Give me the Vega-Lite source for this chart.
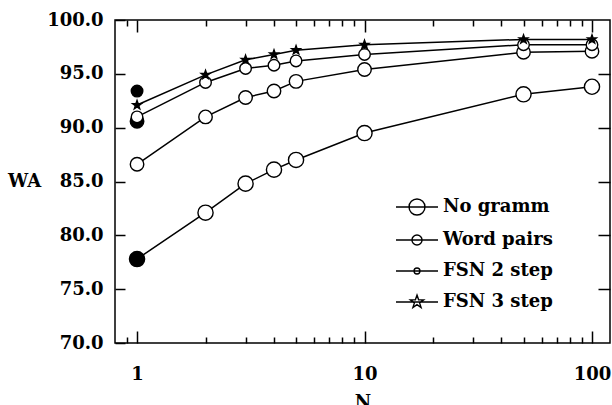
{
  "$schema": "https://vega.github.io/schema/vega-lite/v6.json",
  "width": 495,
  "height": 323,
  "autosize": {"type": "none"},
  "padding": {"left": 115, "top": 20, "right": 2, "bottom": 62},
  "background": "white",
  "config": {
    "view": {"stroke": "black", "strokeWidth": 1.5},
    "font": "DejaVu Serif",
    "axis": {"grid": false, "domain": false, "tickColor": "black", "tickWidth": 1.5, "labelColor": "black", "labelFont": "DejaVu Serif", "labelFontWeight": "bold", "labelFontSize": 18, "titleFont": "DejaVu Serif", "titleFontWeight": "bold", "titleFontSize": 18, "titleColor": "black"}
  },
  "data": {"values": [
    {"series": "No gramm", "N": 1, "WA": 77.8, "filled": true, "extra": false},
    {"series": "No gramm", "N": 2, "WA": 82.1, "filled": false, "extra": false},
    {"series": "No gramm", "N": 3, "WA": 84.8, "filled": false, "extra": false},
    {"series": "No gramm", "N": 4, "WA": 86.1, "filled": false, "extra": false},
    {"series": "No gramm", "N": 5, "WA": 87.0, "filled": false, "extra": false},
    {"series": "No gramm", "N": 10, "WA": 89.5, "filled": false, "extra": false},
    {"series": "No gramm", "N": 50, "WA": 93.1, "filled": false, "extra": false},
    {"series": "No gramm", "N": 100, "WA": 93.8, "filled": false, "extra": false},
    {"series": "Word pairs", "N": 1, "WA": 86.6, "filled": false, "extra": false},
    {"series": "Word pairs", "N": 2, "WA": 91.0, "filled": false, "extra": false},
    {"series": "Word pairs", "N": 3, "WA": 92.8, "filled": false, "extra": false},
    {"series": "Word pairs", "N": 4, "WA": 93.4, "filled": false, "extra": false},
    {"series": "Word pairs", "N": 5, "WA": 94.3, "filled": false, "extra": false},
    {"series": "Word pairs", "N": 10, "WA": 95.4, "filled": false, "extra": false},
    {"series": "Word pairs", "N": 50, "WA": 97.0, "filled": false, "extra": false},
    {"series": "Word pairs", "N": 100, "WA": 97.1, "filled": false, "extra": false},
    {"series": "Word pairs", "N": 1, "WA": 90.6, "filled": true, "extra": true},
    {"series": "FSN 2 step", "N": 1, "WA": 91.0, "filled": false, "extra": false},
    {"series": "FSN 2 step", "N": 2, "WA": 94.2, "filled": false, "extra": false},
    {"series": "FSN 2 step", "N": 3, "WA": 95.5, "filled": false, "extra": false},
    {"series": "FSN 2 step", "N": 4, "WA": 95.8, "filled": false, "extra": false},
    {"series": "FSN 2 step", "N": 5, "WA": 96.2, "filled": false, "extra": false},
    {"series": "FSN 2 step", "N": 10, "WA": 96.8, "filled": false, "extra": false},
    {"series": "FSN 2 step", "N": 50, "WA": 97.7, "filled": false, "extra": false},
    {"series": "FSN 2 step", "N": 100, "WA": 97.7, "filled": false, "extra": false},
    {"series": "FSN 2 step", "N": 1, "WA": 93.4, "filled": true, "extra": true},
    {"series": "FSN 3 step", "N": 1, "WA": 92.1, "filled": true, "extra": false},
    {"series": "FSN 3 step", "N": 2, "WA": 94.9, "filled": true, "extra": false},
    {"series": "FSN 3 step", "N": 3, "WA": 96.3, "filled": true, "extra": false},
    {"series": "FSN 3 step", "N": 4, "WA": 96.8, "filled": true, "extra": false},
    {"series": "FSN 3 step", "N": 5, "WA": 97.2, "filled": true, "extra": false},
    {"series": "FSN 3 step", "N": 10, "WA": 97.7, "filled": true, "extra": false},
    {"series": "FSN 3 step", "N": 50, "WA": 98.2, "filled": true, "extra": false},
    {"series": "FSN 3 step", "N": 100, "WA": 98.2, "filled": true, "extra": false}
  ]},
  "resolve": {"axis": {"x": "independent", "y": "independent"}, "scale": {"shape": "independent", "size": "independent", "color": "independent"}},
  "layer": [
    {
      "transform": [{"filter": "datum.extra == false"}],
      "mark": {"type": "line", "stroke": "black", "strokeWidth": 1.5},
      "encoding": {
        "x": {"field": "N", "type": "quantitative", "scale": {"type": "log", "domain": [0.8, 120], "nice": false},
          "axis": {"orient": "bottom", "title": "N", "titlePadding": 10, "values": [1, 10, 100], "format": "d", "tickSize": -12, "labelPadding": 34}},
        "y": {"field": "WA", "type": "quantitative", "scale": {"domain": [70, 100], "nice": false, "zero": false},
          "axis": {"orient": "left", "title": "WA", "titleAngle": 0, "titleAlign": "right", "titleBaseline": "middle", "titlePadding": 6,
            "values": [70, 75, 80, 85, 90, 95, 100], "format": ".1f", "tickSize": -10, "labelPadding": 22}},
        "detail": {"field": "series", "type": "nominal"}
      }
    },
    {
      "mark": {"type": "point", "stroke": "black", "strokeWidth": 1.4, "opacity": 1},
      "encoding": {
        "x": {"field": "N", "type": "quantitative", "axis": {"orient": "top", "title": null, "labels": false, "values": [1, 10, 100], "tickSize": -12}},
        "y": {"field": "WA", "type": "quantitative", "axis": {"orient": "right", "title": null, "labels": false, "values": [75, 80, 85, 90, 95], "tickSize": -12}},
        "shape": {"field": "series", "type": "nominal", "legend": null,
          "scale": {"domain": ["No gramm", "Word pairs", "FSN 2 step", "FSN 3 step"], "range": ["circle", "circle", "circle", "M 0 -1 L 0.235 -0.324 L 0.951 -0.309 L 0.38 0.124 L 0.588 0.809 L 0 0.4 L -0.588 0.809 L -0.38 0.124 L -0.951 -0.309 L -0.235 -0.324 Z"]}},
        "size": {"field": "series", "type": "nominal", "legend": null,
          "scale": {"domain": ["No gramm", "Word pairs", "FSN 2 step", "FSN 3 step"], "range": [230, 85, 40, 196]}},
        "fill": {"condition": {"test": "datum.filled", "value": "black"}, "value": "white"}
      }
    },
    {
      "transform": [{"filter": "datum.extra == false"}],
      "mark": {"type": "point", "opacity": 0, "stroke": "black", "strokeWidth": 1.4},
      "encoding": {
        "x": {"field": "N", "type": "quantitative", "axis": {"orient": "bottom", "title": null, "labels": false, "values": [0.9, 2, 3, 4, 5, 6, 7, 8, 9, 20, 30, 40, 50, 60, 70, 80, 90], "tickSize": -6}},
        "y": {"field": "WA", "type": "quantitative", "axis": null},
        "color": {"field": "series", "type": "nominal",
          "scale": {"domain": ["No gramm", "Word pairs", "FSN 2 step", "FSN 3 step"], "range": ["black", "black", "black", "black"]},
          "legend": {"title": null, "orient": "none", "legendX": 280, "legendY": 165, "symbolSize": 1764, "symbolStrokeColor": "black", "symbolStrokeWidth": 1.4, "symbolOpacity": 1,
            "labelFont": "DejaVu Serif", "labelFontWeight": "bold", "labelFontSize": 18, "labelColor": "black", "rowPadding": -5,
            "encode": {"labels": {"update": {"align": {"value": "right"}, "x": {"value": -6}}}, "symbols": {"update": {"opacity": {"value": 1}, "stroke": {"value": "black"}}}}}},
        "shape": {"field": "series", "type": "nominal",
          "scale": {"domain": ["No gramm", "Word pairs", "FSN 2 step", "FSN 3 step"],
            "range": [
              "M -1 0 L 1 0 M -0.38 0 A 0.38 0.38 0 1 0 0.38 0 A 0.38 0.38 0 1 0 -0.38 0 Z",
              "M -1 0 L 1 0 M -0.24 0 A 0.24 0.24 0 1 0 0.24 0 A 0.24 0.24 0 1 0 -0.24 0 Z",
              "M -1 0 L 1 0 M -0.14 0 A 0.14 0.14 0 1 0 0.14 0 A 0.14 0.14 0 1 0 -0.14 0 Z",
              "M -1 0 L 1 0 M 0 -0.33 L 0.076 -0.105 L 0.314 -0.102 L 0.124 0.04 L 0.194 0.267 L 0 0.13 L -0.194 0.267 L -0.124 0.04 L -0.314 -0.102 L -0.076 -0.105 Z"
            ]}}
      }
    },
    {
      "transform": [{"filter": "datum.extra == true"}],
      "mark": {"type": "point", "opacity": 0},
      "encoding": {
        "x": {"field": "N", "type": "quantitative", "axis": {"orient": "top", "title": null, "labels": false, "values": [0.9, 2, 3, 4, 5, 6, 7, 8, 9, 20, 30, 40, 50, 60, 70, 80, 90], "tickSize": -6}},
        "y": {"field": "WA", "type": "quantitative", "axis": null}
      }
    }
  ]
}
